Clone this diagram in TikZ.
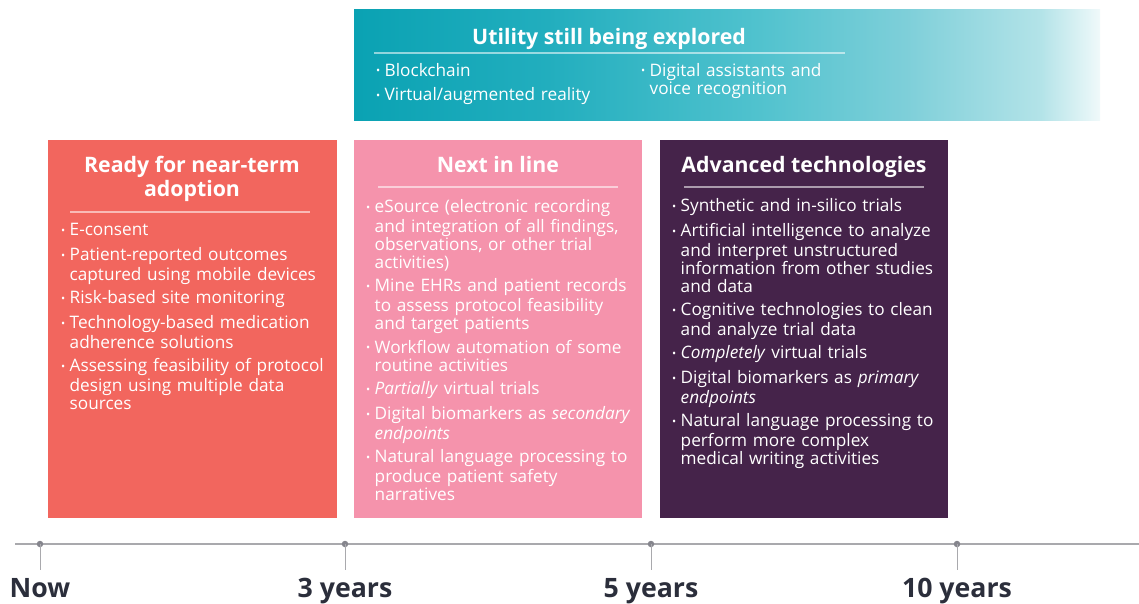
\documentclass[tikz,border=0pt]{standalone}
\usepackage{fontspec}
\setmainfont{Open Sans}
\definecolor{redbox}{HTML}{F2665E}
\definecolor{pinkbox}{HTML}{F593AC}
\definecolor{purplebox}{HTML}{45234A}
\definecolor{tealA}{HTML}{0AA2B3}
\definecolor{tealB}{HTML}{22AEBE}
\definecolor{tealC}{HTML}{50C2CE}
\definecolor{tealD}{HTML}{7ECFD9}
\definecolor{tealE}{HTML}{B3E3E8}
\definecolor{tealF}{HTML}{F0F9FA}
\definecolor{axisgray}{HTML}{A9A9AD}
\definecolor{dotgray}{HTML}{85858D}
\definecolor{labeldark}{HTML}{2B2E3B}
\pgfdeclarehorizontalshading{tealfade}{100bp}{color(0bp)=(tealA); color(25bp)=(tealA); color(38bp)=(tealB); color(52bp)=(tealC); color(62bp)=(tealD); color(71bp)=(tealE); color(75bp)=(tealF); color(100bp)=(tealF)}
\newcommand{\itm}[1]{\par\noindent\hangindent=8.5pt\hangafter=1\makebox[8.5pt][l]{\raisebox{1.4pt}{\fontsize{11}{11}\selectfont\textbullet}}\strut#1\par}
\tikzset{
  boxbg/.style={anchor=north west, inner sep=0, minimum width=#1, minimum height=378},
  boxtitle/.style={text=white, font=\fontsize{21.3}{24}\selectfont\bfseries, align=center, inner sep=0},
  listtext/.style={text=white, anchor=north west, inner sep=0, text width=300pt, align=left,
    font=\fontsize{17.2}{18.1}\selectfont\setlength{\parskip}{5.4pt}},
  rulew/.style={draw=white, draw opacity=0.55, line width=1.5pt},
  axisline/.style={draw=axisgray, line width=2.2pt},
  tickline/.style={draw=axisgray, line width=1pt},
  tickdot/.style={circle, fill=dotgray, inner sep=0, minimum size=6.5pt},
  yearlabel/.style={text=labeldark, font=\fontsize{26.7}{28}\selectfont\bfseries, anchor=base, inner sep=0}
}
\begin{document}
\begin{tikzpicture}[x=1pt,y=-1pt]
\useasboundingbox (0,0) rectangle (1139,603);
% teal band
\node[boxbg=746, minimum height=111, shade, shading=tealfade] (teal) at (354,9) {};
\node[boxtitle, anchor=base] (tealtitle) at (609,44) {Utility still being explored};
\draw[rulew] (374,53) -- (845,53);
\node[listtext] (teallistA) at (376,52.3) {\itm{Blockchain}\itm{Virtual/augmented reality}};
\node[listtext] (teallistB) at (641,52.3) {\itm{Digital assistants and\newline voice recognition}};
% red box
\node[boxbg=289, fill=redbox] (red) at (48,140) {};
\node[boxtitle, anchor=base] (redtitle) at (192,196) {Ready for near-term\\adoption};
\draw[rulew] (70,212) -- (310,212);
\node[listtext] (redlist) at (61,212.2) {%
\itm{E-consent}
\itm{Patient-reported outcomes\newline captured using mobile devices}
\itm{Risk-based site monitoring}
\itm{Technology-based medication\newline adherence solutions}
\itm{Assessing feasibility of protocol\newline design using multiple data\newline sources}};
% pink box
\node[boxbg=288, fill=pinkbox] (pink) at (354,140) {};
\node[boxtitle, anchor=base] (pinktitle) at (498,172) {Next in line};
\draw[rulew] (378,187) -- (618,187);
\node[listtext] (pinklist) at (366,188.9) {%
\itm{eSource (electronic recording\newline and integration of all findings,\newline observations, or other trial\newline activities)}
\itm{Mine EHRs and patient records\newline to assess protocol feasibility\newline and target patients}
\itm{Workflow automation of some\newline routine activities}
\itm{\textit{Partially} virtual trials}
\itm{Digital biomarkers as \textit{secondary}\newline \textit{endpoints}}
\itm{Natural language processing to\newline produce patient safety\newline narratives}};
% purple box
\node[boxbg=288, fill=purplebox] (purple) at (660,140) {};
\node[boxtitle, anchor=base] (purpletitle) at (804,172) {Advanced technologies};
\draw[rulew] (684,187) -- (924,187);
\node[listtext] (purplelist) at (672,188.1) {%
\itm{Synthetic and in-silico trials}
\itm{Artificial intelligence to analyze\newline and interpret unstructured\newline information from other studies\newline and data}
\itm{Cognitive technologies to clean\newline and analyze trial data}
\itm{\textit{Completely} virtual trials}
\itm{Digital biomarkers as \textit{primary}\newline \textit{endpoints}}
\itm{Natural language processing to\newline perform more complex\newline medical writing activities}};
% timeline
\coordinate (axL) at (15,544);
\coordinate (axR) at (1139,544);
\draw[axisline] (axL) -- (axR);
\foreach \x/\lab/\nm in {40/Now/now, 345/3 years/three, 651/5 years/five, 957/10 years/ten}{
  \coordinate (\nm tip) at (\x,570);
  \node[tickdot] (\nm dot) at (\x,544) {};
  \draw[tickline] (\nm dot.center) -- (\nm tip);
  \node[yearlabel] (\nm lab) at (\x,597) {\lab};
}
\end{tikzpicture}
\end{document}
